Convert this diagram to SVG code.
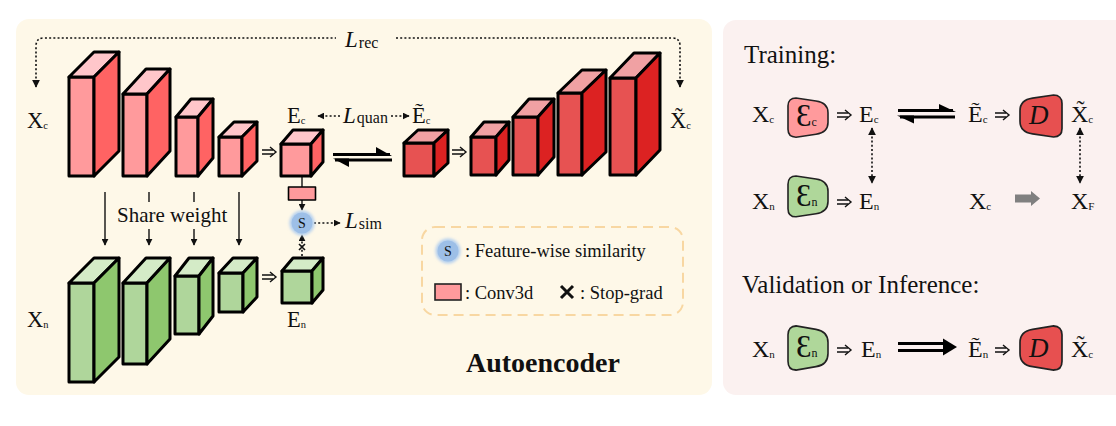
<svg xmlns="http://www.w3.org/2000/svg" width="1116" height="426" viewBox="0 0 1116 426">
<style>
  text { font-family: "Liberation Serif", "Times New Roman", serif; fill: #111; }
  .lbl { font-size: 22.5px; }
  .sub { font-size: 10.5px; }
  .L { font-style: italic; font-size: 23px; }
  .lsub { font-size: 16px; }
  .cub polygon, .cub rect { stroke: #000; stroke-width: 3; stroke-linejoin: round; }
  .pk .f { fill: #FF9A9C; } .pk .s { fill: #FF6363; } .pk .t { fill: #FFC6CA; }
  .rd .f { fill: #E75252; } .rd .s { fill: #DC2222; } .rd .t { fill: #F0A1A3; }
  .gr .f { fill: #AFD69B; } .gr .s { fill: #8EC76E; } .gr .t { fill: #D4EBC7; }
  .dot { fill: none; stroke: #111; stroke-width: 1.6; stroke-dasharray: 2 2.2; }
  .sol { fill: none; stroke: #111; stroke-width: 1.4; }
  .bar { fill: none; stroke: #000; stroke-width: 3; }
  .shape { stroke: #222; stroke-width: 1.6; }
  .leg { font-size: 18.5px; }
  .rt { font-size: 24px; }
  .rsub { font-size: 11px; }
  .hd { font-size: 25px; }
</style>
<defs>
  <marker id="ah" viewBox="0 0 10 10" refX="9" refY="5" markerWidth="8" markerHeight="8" markerUnits="userSpaceOnUse" orient="auto-start-reverse">
    <path d="M0,0 L10,5 L0,10 z" fill="#111"/>
  </marker>
  <marker id="ahs" viewBox="0 0 10 10" refX="9" refY="5" markerWidth="7" markerHeight="7" markerUnits="userSpaceOnUse" orient="auto-start-reverse">
    <path d="M0,0 L10,5 L0,10 z" fill="#111"/>
  </marker>
  <g id="dbl" fill="none" stroke="#111" stroke-width="1.4">
    <path d="M0,-2 H11 M0,2 H11"/>
    <path d="M8,-5 L14,0 L8,5"/>
  </g>
  <path id="encP" d="M8,0 C3,0 0,3 0,8 L0,32 C0,37 3,40 8,40 L28,37 C35,36 40,32 40,25 L40,15 C40,8 35,4 28,3 Z"/>
  <filter id="glow" x="-50%" y="-50%" width="200%" height="200%"><feGaussianBlur stdDeviation="1.5"/></filter>
</defs>

<!-- panels -->
<rect id="panel-autoencoder" x="16" y="19" width="696" height="376" rx="13" fill="#FEF8E8"/>
<rect id="panel-modes" x="723" y="20" width="410" height="375" rx="13" fill="#FBF1F0"/>

<!-- connectors -->
<g id="connectors">
  <path class="dot" d="M36,87 V46 Q36,38 44,38 H336" marker-start="url(#ah)"/>
  <path class="dot" d="M396,38 H672 Q680,38 680,46 V87" marker-end="url(#ah)"/>
  <path class="dot" d="M340,116 H318" marker-end="url(#ahs)"/>
  <path class="dot" d="M391,116 H409" marker-end="url(#ahs)"/>
  <!-- share weight -->
  <path class="sol" d="M105,192 V245" marker-end="url(#ahs)"/>
  <path class="sol" d="M149,192 V202"/>
  <path class="sol" d="M149,229 V245" marker-end="url(#ahs)"/>
  <path class="sol" d="M194,192 V202"/>
  <path class="sol" d="M194,229 V245" marker-end="url(#ahs)"/>
  <path class="sol" d="M239,192 V245" marker-end="url(#ahs)"/>
  <!-- small double arrows -->
  <use href="#dbl" x="262" y="152"/>
  <use href="#dbl" x="452" y="152"/>
  <use href="#dbl" x="262" y="277"/>
  <!-- equilibrium harpoons -->
  <path class="bar" d="M333,154.5 H390"/>
  <polygon points="392,156 376,147 376,156" fill="#000"/>
  <path class="bar" d="M335,160 H392"/>
  <polygon points="333,158.5 349,167 349,158.5" fill="#000"/>
  <!-- conv branch -->
  <path class="sol" d="M302,176 V187"/>
  <path class="sol" d="M302,200 V210" marker-end="url(#ahs)"/>
  <path class="dot" d="M314,223 H340" marker-end="url(#ahs)"/>
  <path class="dot" d="M302,256 V235" marker-end="url(#ahs)"/>
  <path d="M299,244 L305,250 M305,244 L299,250" stroke="#111" stroke-width="1.6"/>
  <!-- right panel connectors -->
  <use href="#dbl" x="837" y="115"/>
  <use href="#dbl" x="995" y="115"/>
  <use href="#dbl" x="837" y="202"/>
  <use href="#dbl" x="837" y="350"/>
  <use href="#dbl" x="995" y="350"/>
  <path class="bar" d="M898,110.5 H953"/>
  <polygon points="956,112 939,104 939,112" fill="#000"/>
  <path class="bar" d="M900,117 H955"/>
  <polygon points="897,115.5 914,123.5 914,115.5" fill="#000"/>
  <path class="dot" d="M872,128 V183" marker-start="url(#ah)" marker-end="url(#ah)"/>
  <path class="dot" d="M1080,128 V183" marker-start="url(#ah)" marker-end="url(#ah)"/>
  <polygon points="1015,194.5 1031,194.5 1031,191 1040,198.5 1031,206 1031,202.5 1015,202.5" fill="#808080"/>
  <path class="bar" d="M898,343.5 H947 M898,350.5 H947"/>
  <polygon points="943,338.5 957,347 943,355.5" fill="#000"/>
</g>

<!-- loss labels -->
<g id="loss-labels">
  <text x="345" y="47" class="L">L<tspan class="lsub" font-style="normal" dx="1" dy="1">rec</tspan></text>
  <text x="343" y="123" class="L">L<tspan class="lsub" font-style="normal" dx="1" dy="0">quan</tspan></text>
  <text x="345" y="228" class="L">L<tspan class="lsub" font-style="normal" dx="1" dy="1">sim</tspan></text>
  <text x="117" y="222" font-size="21">Share weight</text>
</g>

<!-- top encoder (clean) -->
<g id="enc-c-1" class="cub pk">
  <rect class="f" x="69" y="77" width="25" height="99"/>
  <polygon class="t" points="69,77 94,52 119,52 94,77"/>
  <polygon class="s" points="94,77 119,52 119,151 94,176"/>
</g>
<g id="enc-c-2" class="cub pk">
  <rect class="f" x="123" y="94" width="24" height="82"/>
  <polygon class="t" points="123,94 146,69 170,69 147,94"/>
  <polygon class="s" points="147,94 170,69 170,151 147,176"/>
</g>
<g id="enc-c-3" class="cub pk">
  <rect class="f" x="176" y="117" width="22" height="59"/>
  <polygon class="t" points="176,117 191,99 213,99 198,117"/>
  <polygon class="s" points="198,117 213,99 213,158 198,176"/>
</g>
<g id="enc-c-4" class="cub pk">
  <rect class="f" x="219" y="137" width="23" height="39"/>
  <polygon class="t" points="219,137 234,122 257,122 242,137"/>
  <polygon class="s" points="242,137 257,122 257,161 242,176"/>
</g>
<g id="latent-ec" class="cub pk">
  <rect class="f" x="281" y="144" width="30" height="32"/>
  <polygon class="t" points="281,144 293,130 323,130 311,144"/>
  <polygon class="s" points="311,144 323,130 323,162 311,176"/>
</g>
<g id="conv3d" class="cub pk">
  <rect class="f" x="288.5" y="187" width="27" height="13" style="stroke-width:1.6"/>
</g>
<g id="sim-node">
  <circle cx="302" cy="223" r="12.5" fill="#B3CFEF" filter="url(#glow)"/>
  <circle cx="302" cy="223" r="10.5" fill="#9DBFE7"/>
  <text x="302" y="228" font-size="14" text-anchor="middle">S</text>
</g>

<!-- decoder -->
<g id="latent-ec-q" class="cub rd">
  <rect class="f" x="404" y="143" width="30" height="33"/>
  <polygon class="t" points="404,143 418,130 448,130 434,143"/>
  <polygon class="s" points="434,143 448,130 448,163 434,176"/>
</g>
<g id="dec-1" class="cub rd">
  <rect class="f" x="471" y="137" width="25" height="38"/>
  <polygon class="t" points="471,137 484,122 509,122 496,137"/>
  <polygon class="s" points="496,137 509,122 509,160 496,175"/>
</g>
<g id="dec-2" class="cub rd">
  <rect class="f" x="513" y="117" width="25" height="58"/>
  <polygon class="t" points="513,117 529,99 554,99 538,117"/>
  <polygon class="s" points="538,117 554,99 554,157 538,175"/>
</g>
<g id="dec-3" class="cub rd">
  <rect class="f" x="558" y="93" width="24" height="82"/>
  <polygon class="t" points="558,93 582,70 606,70 582,93"/>
  <polygon class="s" points="582,93 606,70 606,152 582,175"/>
</g>
<g id="dec-4" class="cub rd">
  <rect class="f" x="610" y="78" width="26" height="97"/>
  <polygon class="t" points="610,78 634,53 660,53 636,78"/>
  <polygon class="s" points="636,78 660,53 660,150 636,175"/>
</g>

<!-- bottom encoder (noisy) -->
<g id="enc-n-1" class="cub gr">
  <rect class="f" x="69" y="283" width="25" height="99"/>
  <polygon class="t" points="69,283 94,258 119,258 94,283"/>
  <polygon class="s" points="94,283 119,258 119,357 94,382"/>
</g>
<g id="enc-n-2" class="cub gr">
  <rect class="f" x="123" y="283" width="24" height="81"/>
  <polygon class="t" points="123,283 146,258 170,258 147,283"/>
  <polygon class="s" points="147,283 170,258 170,339 147,364"/>
</g>
<g id="enc-n-3" class="cub gr">
  <rect class="f" x="175" y="276" width="24" height="58"/>
  <polygon class="t" points="175,276 189,258 213,258 199,276"/>
  <polygon class="s" points="199,276 213,258 213,316 199,334"/>
</g>
<g id="enc-n-4" class="cub gr">
  <rect class="f" x="219" y="273" width="24" height="39"/>
  <polygon class="t" points="219,273 233,258 257,258 243,273"/>
  <polygon class="s" points="243,273 257,258 257,297 243,312"/>
</g>
<g id="latent-en" class="cub gr">
  <rect class="f" x="282" y="271" width="30" height="32"/>
  <polygon class="t" points="282,271 293,258 323,258 312,271"/>
  <polygon class="s" points="312,271 323,258 323,290 312,303"/>
</g>

<!-- left labels -->
<g id="left-labels">
  <text x="27" y="128" class="lbl">X<tspan class="sub" dy="1">c</tspan></text>
  <text x="27" y="327" class="lbl">X<tspan class="sub" dy="1">n</tspan></text>
  <text x="287" y="123" class="lbl">E<tspan class="sub" dy="1">c</tspan></text>
  <text x="287" y="327" class="lbl">E<tspan class="sub" dy="1">n</tspan></text>
  <text x="412" y="123" class="lbl">Ẽ<tspan class="sub" dy="1">c</tspan></text>
  <text x="670" y="128" class="lbl">X̃<tspan class="sub" dy="1">c</tspan></text>
  <text x="466" y="372" font-size="28" font-weight="bold">Autoencoder</text>
</g>

<!-- legend -->
<g id="legend">
  <rect x="422" y="227" width="261" height="88" rx="13" fill="none" stroke="#F8D7A2" stroke-width="2" stroke-dasharray="10 6"/>
  <circle cx="448" cy="251" r="12.5" fill="#B3CFEF" filter="url(#glow)"/>
  <circle cx="448" cy="251" r="10.5" fill="#9DBFE7"/>
  <text x="448" y="256" font-size="14" text-anchor="middle">S</text>
  <text x="465" y="257" class="leg">: Feature-wise similarity</text>
  <rect x="435" y="284" width="26" height="16" fill="#FF9A9C" stroke="#222" stroke-width="1.6"/>
  <text x="465" y="299" class="leg">: Conv3d</text>
  <path d="M561,286 L573,298 M573,286 L561,298" stroke="#111" stroke-width="3"/>
  <text x="580" y="299" class="leg">: Stop-grad</text>
</g>

<!-- right panel -->
<g id="training">
  <text x="744" y="63" class="hd">Training:</text>
  <text x="752" y="122" class="rt">X<tspan class="rsub" dy="1">c</tspan></text>
  <g id="enc-shape-c"><use href="#encP" transform="translate(788,98) scale(1,0.98)" fill="#FF9A9C" class="shape"/>
  <text x="796" y="126" font-size="31">Ɛ<tspan font-size="12" dy="0">c</tspan></text></g>
  <text x="859" y="122" class="rt">E<tspan class="rsub" dy="1">c</tspan></text>
  <text x="968" y="122" class="rt">Ẽ<tspan class="rsub" dy="1">c</tspan></text>
  <g id="dec-shape-1"><use href="#encP" transform="translate(1062,95) scale(-1.05,1.05)" fill="#E75050" class="shape"/>
  <text x="1029" y="124" font-size="27" font-style="italic">D</text></g>
  <text x="1071" y="122" class="rt">X̃<tspan class="rsub" dy="1">c</tspan></text>

  <text x="752" y="209" class="rt">X<tspan class="rsub" dy="1">n</tspan></text>
  <g id="enc-shape-n"><use href="#encP" transform="translate(788,176) scale(1,1.02)" fill="#AFD79A" class="shape"/>
  <text x="796" y="206" font-size="31">Ɛ<tspan font-size="12" dy="0">n</tspan></text></g>
  <text x="859" y="209" class="rt">E<tspan class="rsub" dy="1">n</tspan></text>
  <text x="969" y="209" class="rt">X<tspan class="rsub" dy="1">c</tspan></text>
  <text x="1071" y="209" class="rt">X<tspan class="rsub" dy="1">F</tspan></text>
</g>
<g id="inference">
  <text x="742" y="293" class="hd">Validation or Inference:</text>
  <text x="752" y="357" class="rt">X<tspan class="rsub" dy="1">n</tspan></text>
  <g id="enc-shape-n2"><use href="#encP" transform="translate(788,326) scale(1,1.1)" fill="#AFD79A" class="shape"/>
  <text x="796" y="357" font-size="31">Ɛ<tspan font-size="12" dy="0">n</tspan></text></g>
  <text x="861" y="357" class="rt">E<tspan class="rsub" dy="1">n</tspan></text>
  <text x="968" y="357" class="rt">Ẽ<tspan class="rsub" dy="1">n</tspan></text>
  <g id="dec-shape-2"><use href="#encP" transform="translate(1062,326) scale(-1.05,1.1)" fill="#E75050" class="shape"/>
  <text x="1029" y="357" font-size="27" font-style="italic">D</text></g>
  <text x="1071" y="357" class="rt">X̃<tspan class="rsub" dy="1">c</tspan></text>
</g>
</svg>
